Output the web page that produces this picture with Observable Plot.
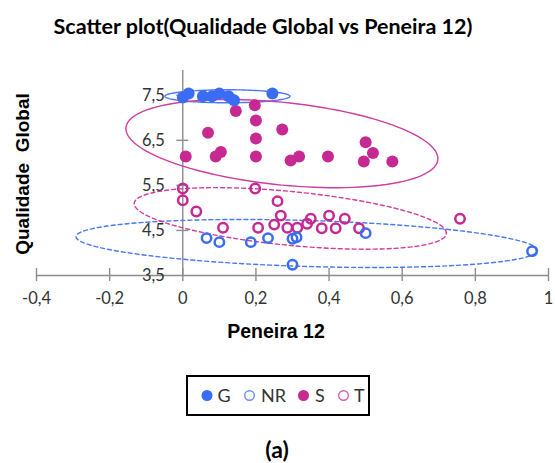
<!DOCTYPE html>
<html>
<head>
<meta charset="utf-8">
<script src="https://cdn.jsdelivr.net/npm/d3@7"></script>
<script src="https://cdn.jsdelivr.net/npm/@observablehq/plot@0.6"></script>
<style>
  body { margin: 0; background: #fff; }
  #wrap { position: relative; width: 555px; height: 463px; overflow: hidden; background: #fff; }
  #chart { position: absolute; left: 0; top: 0; }
  .lbl { position: absolute; white-space: pre; line-height: 1; transform: translate(-50%, -50%); color: #000; }
  #title { left: 263px; top: 26px; font: 700 21.5px Lato, sans-serif; }
  #xlabel { left: 276px; top: 331px; font: 700 19.5px "Liberation Sans", Arial, sans-serif; }
  #ylabel { left: 23px; top: 174px; font: 700 19px "Liberation Sans", Arial, sans-serif; transform: translate(-50%, -50%) rotate(-90deg); }
  #cap { left: 277px; top: 449px; font: 700 23px Lato, sans-serif; }
  #legend { position: absolute; left: 186px; top: 375px; }
</style>
</head>
<body>
<div id="wrap">
  <div id="chart"></div>
  <div class="lbl" id="title">Scatter plot(Qualidade Global vs Peneira 12)</div>
  <div class="lbl" id="ylabel">Qualidade  Global</div>
  <div class="lbl" id="xlabel">Peneira 12</div>
  <svg id="legend" width="184" height="41"></svg>
  <div class="lbl" id="cap">(a)</div>
</div>
<script>
// ---------- data ----------
const groups = ["G", "NR", "S", "T"];

const gX = [0, 0.016, 0.055, 0.08, 0.10, 0.125, 0.14, 0.245];
const gY = [7.45, 7.54, 7.48, 7.48, 7.54, 7.48, 7.39, 7.54];

const nrX = [0.065, 0.10, 0.186, 0.233, 0.30, 0.311, 0.30, 0.50, 0.955];
const nrY = [4.33, 4.24, 4.24, 4.33, 4.315, 4.35, 3.74, 4.44, 4.04];

const sX = [0.145, 0.197, 0.20, 0.069, 0.20, 0.272, 0.008, 0.09, 0.104, 0.20, 0.295, 0.318, 0.397, 0.50, 0.52, 0.495, 0.573];
const sY = [7.15, 7.28, 6.94, 6.67, 6.54, 6.74, 6.14, 6.14, 6.24, 6.14, 6.05, 6.14, 6.14, 6.46, 6.22, 6.03, 6.03];

const tX = [0, 0, 0.037, 0.198, 0.259, 0.268, 0.11, 0.206, 0.25, 0.286, 0.313, 0.35, 0.34, 0.40, 0.443, 0.38, 0.418, 0.482, 0.758];
const tY = [5.43, 5.17, 4.92, 5.43, 5.15, 4.83, 4.56, 4.56, 4.63, 4.56, 4.56, 4.76, 4.65, 4.83, 4.76, 4.55, 4.55, 4.55, 4.76];

// confidence ellipses (order G, NR, S, T): centre, half-diameter to the x-extreme, conjugate vertical half-chord
const ellCx = [0.122, 0.339, 0.271, 0.294];
const ellCy = [7.478, 4.211, 6.427, 4.767];
const ellUx = [0.171, 0.631, 0.4265, 0.4268];
const ellUy = [0, -0.151, -0.333, -0.327];
const ellH  = [0.144, 0.511, 0.92, 0.60];

const xTicks = [-0.4, -0.2, 0, 0.2, 0.4, 0.6, 0.8, 1.0];
const xTickLabels = ["-0,4", "-0,2", "0", "0,2", "0,4", "0,6", "0,8", "1"];
const yTicks = [3.5, 4.5, 5.5, 6.5, 7.5];
const yTickLabels = ["3,5", "4,5", "5,5", "6,5", "7,5"];

// ---------- styles ----------
const BLUE = "#3a6cf4";
const MAG = "#c62a92";
const BLUE_E = "#4a78f6";
const MAG_E = "#cf3ea0";
const AXIS = "#8c8c8c";
const TICKTXT = "#333333";
const groupColor = {G: BLUE, NR: BLUE, S: MAG, T: MAG};
const groupFilled = {G: true, NR: false, S: true, T: false};
const ellStroke = [BLUE_E, BLUE_E, MAG_E, MAG_E];
const ellDash = [null, "4,3", null, "4,3"];

const pts = (xs, ys) => xs.map((x, i) => ({x, y: ys[i]}));
const G = pts(gX, gY), NR = pts(nrX, nrY), S = pts(sX, sY), T = pts(tX, tY);

const angles = d3.range(0, 361, 3).map(a => a * Math.PI / 180);
const ellipse = k => angles.map(t => ({
  x: ellCx[k] + ellUx[k] * Math.cos(t),
  y: ellCy[k] + ellUy[k] * Math.cos(t) + ellH[k] * Math.sin(t)
}));

const ellMarks = groups.map((g, k) => Plot.line(ellipse(k), {
  x: "x", y: "y", stroke: ellStroke[k], strokeWidth: 1.4,
  strokeDasharray: ellDash[k] || undefined, curve: "linear"
}));

const chart = Plot.plot({
  width: 555, height: 350,
  marginLeft: 36, marginRight: 7, marginTop: 70, marginBottom: 75,
  x: {domain: [-0.4, 1.0], axis: null},
  y: {domain: [3.5, 8.05], axis: null},
  style: {background: "transparent", overflow: "visible"},
  marks: [
    Plot.ruleY([3.5], {stroke: AXIS, strokeWidth: 1.4}),
    Plot.ruleX([0], {stroke: AXIS, strokeWidth: 1.4}),
    Plot.ruleX(xTicks, {x: d => d, y1: 3.5, y2: 3.5, insetTop: 6, insetBottom: 7, stroke: AXIS, strokeWidth: 1.4}),
    Plot.ruleY(yTicks.slice(1), {y: d => d, x1: 0, x2: 0, insetLeft: -6, insetRight: -6, stroke: AXIS, strokeWidth: 1.4}),
    Plot.text(xTicks, {x: d => d, y: 3.5, text: (d, i) => xTickLabels[i], dy: 23, fontSize: 16.5, fontFamily: "Lato", fill: TICKTXT}),
    Plot.text(yTicks, {x: 0, y: d => d, text: (d, i) => yTickLabels[i], dx: -18, textAnchor: "end", fontSize: 16.5, fontFamily: "Lato", fill: TICKTXT}),
    ...ellMarks,
    Plot.dot(S, {x: "x", y: "y", r: 6, fill: MAG, stroke: "none"}),
    Plot.dot(T, {x: "x", y: "y", r: 4.7, fill: "none", stroke: MAG, strokeWidth: 2.5}),
    Plot.dot(NR, {x: "x", y: "y", r: 4.7, fill: "none", stroke: BLUE, strokeWidth: 2.5}),
    Plot.dot(G, {x: "x", y: "y", r: 6, fill: BLUE, stroke: "none"})
  ]
});
document.getElementById("chart").appendChild(chart);

// ---------- legend ----------
const legSym = [21, 63.5, 117.5, 157.5];
const legTxt = [31.5, 75, 129, 168];
const leg = d3.select("#legend");
leg.append("rect").attr("x", 1).attr("y", 1).attr("width", 182).attr("height", 39)
  .attr("fill", "#fff").attr("stroke", "#000").attr("stroke-width", 2);
groups.forEach((g, i) => {
  const c = leg.append("circle").attr("cx", legSym[i]).attr("cy", 20.5);
  if (groupFilled[g]) c.attr("r", 5.5).attr("fill", groupColor[g]);
  else c.attr("r", 4.8).attr("fill", "none").attr("stroke", groupColor[g]).attr("stroke-width", 1.4).attr("opacity", 0.75);
  leg.append("text").attr("x", legTxt[i]).attr("y", 27)
    .attr("font-family", "Lato").attr("font-size", 18).attr("fill", "#333").text(g);
});
</script>
</body>
</html>
